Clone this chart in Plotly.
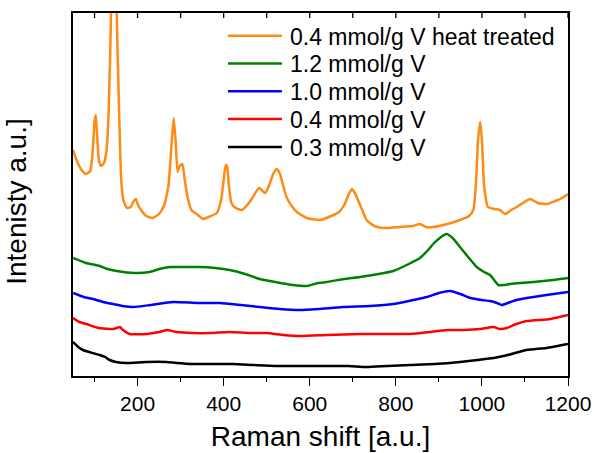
import plotly.graph_objects as go

# Raman shift values and intensities (arbitrary units)
x_heat = [50, 60, 70, 80, 90, 96, 100, 103, 106, 110, 115, 122, 128, 133, 138, 145, 152, 157, 162, 167,
          175, 184, 190, 196, 201, 208, 220, 235, 250, 262, 272, 278, 284, 289, 293, 298, 304, 309, 316, 325,
          340, 352, 365, 384, 394, 400, 405, 408, 412, 418, 428, 442, 455, 468, 478, 484, 490, 497, 506, 515,
          523, 530, 538, 546, 558, 570, 593, 624, 650, 668, 680, 690, 698, 705, 712, 722, 732, 750, 770, 810,
          840, 856, 870, 887, 920, 949, 970, 980, 986, 991, 996, 1000, 1005, 1014, 1030, 1042, 1054, 1068, 1081, 1095,
          1112, 1130, 1151, 1170, 1182, 1197, 1200]
y_heat = [226, 214, 206, 202, 205, 226, 254, 261, 241, 216, 210, 213, 226, 266, 356, 676, 356, 266, 196, 176,
          168, 169, 174, 177, 171, 166, 160, 158, 162, 171, 191, 226, 258, 231, 204, 210, 212, 198, 179, 166,
          161, 157, 159, 163, 176, 196, 211, 210, 191, 173, 168, 166, 171, 179, 186, 188, 185, 183, 191, 202,
          207, 203, 191, 179, 170, 164, 158, 156, 160, 164, 171, 181, 187, 183, 176, 166, 156, 150, 148, 149,
          150, 152, 149, 149, 152, 156, 160, 166, 191, 236, 254, 236, 191, 169, 167, 166, 162, 166, 169, 173,
          177, 173, 172, 175, 177, 181, 182]

x_12 = [50, 80, 112, 130, 151, 193, 228, 250, 275, 310, 345, 380, 414, 450, 484, 520, 561, 593, 620, 639,
        680, 717, 760, 794, 830, 856, 875, 887, 905, 918, 932, 949, 968, 988, 1005, 1019, 1030, 1038, 1050, 1066,
        1090, 1120, 1166, 1200]
y_12 = [118, 113, 110, 107, 105, 103, 104, 107, 109, 109, 109, 108, 106, 102, 97, 94, 91, 90, 93, 94,
        97, 99, 102, 105, 112, 118, 126, 132, 139, 142, 138, 129, 119, 109, 104, 101, 95, 91, 91, 92,
        93, 94, 96, 98]

x_10 = [50, 75, 97, 120, 143, 165, 191, 230, 283, 340, 391, 440, 484, 530, 577, 620, 677, 740, 794, 840,
        872, 900, 926, 950, 973, 1000, 1019, 1035, 1046, 1060, 1080, 1104, 1150, 1200]
y_10 = [83, 79, 77, 74, 72, 70, 69, 71, 74, 73, 73, 71, 69, 67, 66, 67, 69, 70, 72, 76,
        79, 83, 85, 82, 78, 76, 75, 73, 71, 73, 76, 78, 81, 84]

x_04 = [50, 65, 81, 110, 143, 152, 159, 166, 182, 221, 250, 269, 290, 329, 370, 414, 460, 500, 540, 577,
        640, 717, 780, 833, 880, 918, 960, 996, 1027, 1042, 1058, 1080, 1104, 1159, 1200]
y_04 = [58, 54, 52, 48, 47, 48, 49, 46, 42, 42, 44, 46, 44, 43, 43, 44, 43, 43, 41, 40,
        41, 42, 42, 42, 44, 46, 46, 47, 49, 47, 48, 52, 55, 57, 61]

x_03 = [50, 62, 73, 95, 112, 125, 135, 150, 174, 220, 267, 290, 329, 370, 422, 470, 523, 580, 639, 690,
        732, 780, 833, 890, 949, 990, 1027, 1060, 1104, 1150, 1200]
y_03 = [34, 29, 26, 23, 21, 19, 16, 14, 13, 14, 14, 13, 12, 12, 12, 11, 10, 10, 10, 10,
        9, 10, 11, 12, 14, 16, 18, 21, 26, 28, 32]

names = ["0.4 mmol/g V heat treated", "1.2 mmol/g V", "1.0 mmol/g V", "0.4 mmol/g V", "0.3 mmol/g V"]
colors = ["#FF8A14", "#008000", "#0000FF", "#FF0000", "#000000"]
xs = [x_heat, x_12, x_10, x_04, x_03]
ys = [y_heat, y_12, y_10, y_04, y_03]

x_range = [50, 1200]
y_range = [0, 363]
tick_vals = [200, 400, 600, 800, 1000, 1200]
tick_text = ["200", "400", "600", "800", "1000", "1200"]
top_tick_vals = [100, 200, 300, 400, 500, 600, 700, 800, 900, 1000, 1100, 1200]
x_title = "Raman shift [a.u.]"
y_title = "Intenisty a.u.]"

FONT = "Liberation Sans, Arial, sans-serif"

fig = go.Figure()
for xv, yv, nm, c in zip(xs, ys, names, colors):
    fig.add_trace(go.Scatter(x=xv, y=yv, name=nm, mode="lines", showlegend=False,
                             line=dict(color=c, width=2.5, shape="spline", smoothing=0.5)))

# inward ticks along the top frame edge
for tv in top_tick_vals:
    fig.add_shape(type="line", xref="x", yref="paper", x0=tv, x1=tv, y0=1.0, y1=1.0 - 5 / 363,
                  line=dict(color="black", width=1.3), layer="above")

# legend drawn as line samples + text (paper coordinates of the plot area)
leg_x0, leg_x1, leg_tx = 0.313, 0.422, 0.434
leg_top, leg_step = 0.9375, 0.0766
for i, (nm, c) in enumerate(zip(names, colors)):
    yy = leg_top - i * leg_step
    fig.add_shape(type="line", xref="paper", yref="paper", x0=leg_x0, x1=leg_x1, y0=yy, y1=yy,
                  line=dict(color=c, width=2.5))
    fig.add_annotation(xref="paper", yref="paper", x=leg_tx, y=yy, text=nm, showarrow=False,
                       xanchor="left", yanchor="middle", yshift=-1,
                       font=dict(size=23, family=FONT, color="black"))

# y-axis title
fig.add_annotation(xref="paper", yref="paper", x=-0.113, y=0.48, text=y_title, showarrow=False,
                   textangle=-90, xanchor="center", yanchor="middle",
                   font=dict(size=28, family=FONT, color="black"))

fig.update_layout(
    width=594, height=453,
    margin=dict(l=73, r=26, t=13, b=77),
    paper_bgcolor="white", plot_bgcolor="white",
    font=dict(family=FONT, color="black", size=21),
    showlegend=False,
    xaxis=dict(range=x_range, showgrid=False, zeroline=False, automargin=False,
               showline=True, linecolor="black", linewidth=1.5, mirror=True,
               ticks="outside", ticklen=8, tickwidth=1.2, tickcolor="black",
               tickvals=tick_vals, ticktext=tick_text,
               tickfont=dict(size=21, family=FONT),
               minor=dict(dtick=100, ticks="outside", ticklen=4, tickwidth=1.2, tickcolor="black"),
               title=dict(text=x_title, font=dict(size=28, family=FONT), standoff=12)),
    yaxis=dict(range=y_range, showgrid=False, zeroline=False, automargin=False,
               showline=True, linecolor="black", linewidth=1.5, mirror=True,
               ticks="", showticklabels=False),
)

fig.write_html("out.html", config={"displayModeBar": False},
               post_script="document.body.style.margin='0';document.body.style.overflow='hidden';")
